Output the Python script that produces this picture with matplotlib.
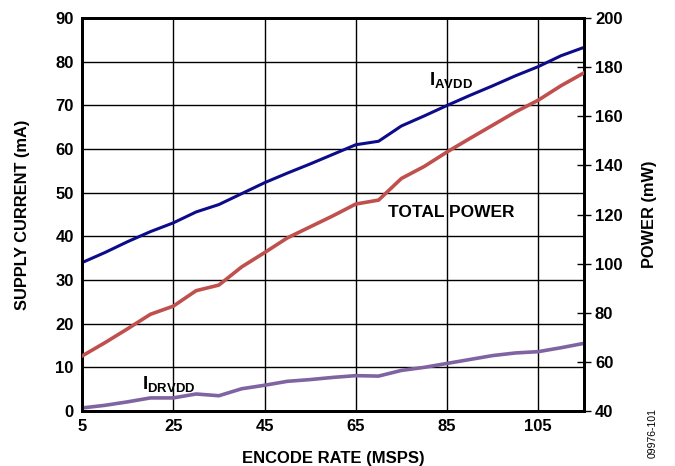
import matplotlib.pyplot as plt

plt.rcParams['font.family'] = ['Liberation Sans', 'DejaVu Sans']
plt.rcParams['mathtext.fontset'] = 'custom'
plt.rcParams['mathtext.rm'] = 'Liberation Sans'
plt.rcParams['mathtext.bf'] = 'Liberation Sans:bold'

# encode rate (MSPS)
rate = [5, 10, 15, 20, 25, 30, 35, 40, 45, 50, 55, 60,
        65, 70, 75, 80, 85, 90, 95, 100, 105, 110, 115]
# supply currents (mA)
i_avdd = [34.0, 36.3, 38.8, 41.1, 43.1, 45.6, 47.3, 49.8, 52.3, 54.5, 56.6, 58.8,
          61.0, 61.8, 65.3, 67.6, 70.0, 72.3, 74.5, 76.8, 78.9, 81.4, 83.3]
i_drvdd = [0.7, 1.3, 2.1, 3.0, 3.0, 3.9, 3.5, 5.1, 5.9, 6.8, 7.2, 7.7,
           8.1, 8.0, 9.3, 10.0, 10.9, 11.8, 12.7, 13.3, 13.6, 14.5, 15.5]
# total power (mW)
power = [62.4, 67.8, 73.5, 79.4, 82.7, 89.0, 91.3, 98.7, 104.5, 110.5, 115.0, 119.5,
         124.3, 125.9, 134.7, 139.6, 145.5, 151.0, 156.4, 161.8, 166.6, 172.5, 177.7]

x_ticks = [5, 25, 45, 65, 85, 105]

fig = plt.figure(figsize=(6.75, 4.66), dpi=100)
ax = fig.add_axes([0.1215, 0.118, 0.7435, 0.843])
ax2 = ax.twinx()

ax.plot(rate, i_avdd, color='#0c0c8a', lw=2.2, zorder=3)
ax.plot(rate, i_drvdd, color='#8064a2', lw=2.6, zorder=3)
ax2.plot(rate, power, color='#c0504d', lw=2.6, zorder=3)

ax.set_xlim(5, 115)
ax.set_ylim(0, 90)
ax2.set_ylim(40, 200)
ax.set_xticks(x_ticks)
ax.set_yticks(range(0, 91, 10))
ax2.set_yticks(range(40, 201, 20))
ax.grid(True, color='black', lw=1.0)
ax.set_axisbelow(True)

ax.tick_params(axis='both', length=0, labelsize=12, pad=6)
ax2.tick_params(axis='y', direction='inout', length=10, width=1, labelsize=12, pad=3)
for a in (ax, ax2):
    for lab in a.get_xticklabels() + a.get_yticklabels():
        lab.set_fontweight('bold')
    for s in a.spines.values():
        s.set_linewidth(2)

ax.set_xlabel('ENCODE RATE (MSPS)', fontsize=12, fontweight='bold', labelpad=12)
ax.set_ylabel('SUPPLY CURRENT (mA)', fontsize=11.8, fontweight='bold', labelpad=18)
ax2.set_ylabel('POWER (mW)', fontsize=11.8, fontweight='bold', labelpad=14)

ax.text(81, 74.5, r'$\mathbf{I}_{\mathbf{AVDD}}$', fontsize=13.5, zorder=4)
ax.text(72, 45.5, 'TOTAL POWER', fontsize=12.5, fontweight='bold', va='center', zorder=4)
ax.text(18.2, 4.8, r'$\mathbf{I}_{\mathbf{DRVDD}}$', fontsize=13.5, zorder=4)

fig.text(0.967, 0.07, '09976-101', rotation=90, fontsize=7.5, ha='center', va='center')

fig.savefig('out.png', dpi=100)
